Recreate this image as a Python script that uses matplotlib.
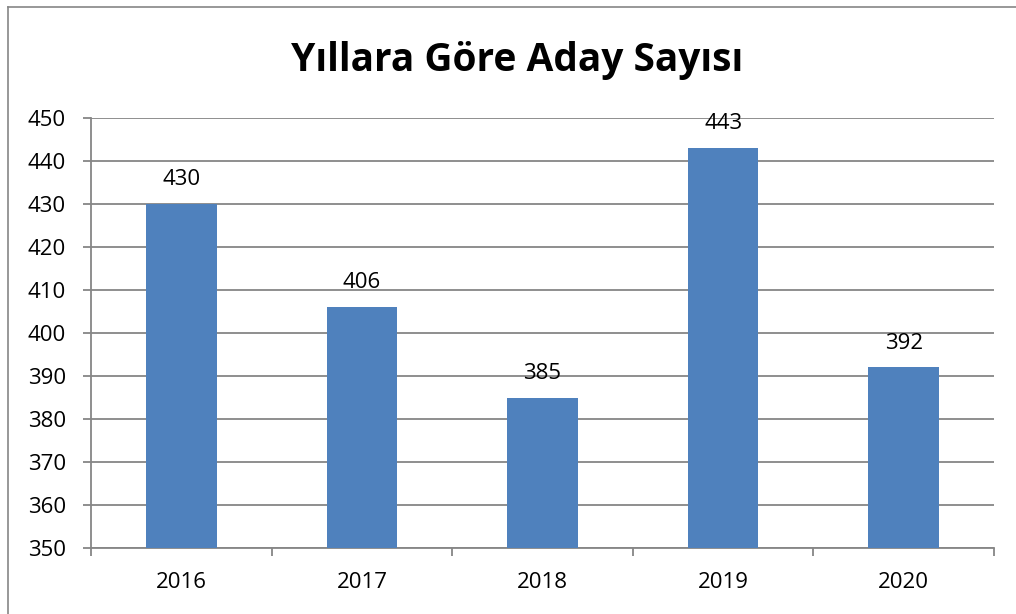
import matplotlib.pyplot as plt
from matplotlib.lines import Line2D

years = ["2016", "2017", "2018", "2019", "2020"]
counts = [430, 406, 385, 443, 392]
y_ticks = list(range(350, 451, 10))

plt.rcParams['font.family'] = ['Open Sans', 'DejaVu Sans']

fig = plt.figure(figsize=(10.16, 6.14), dpi=100)
ax = fig.add_axes([91 / 1016, 1 - 548 / 614, (994 - 91) / 1016, (548 - 118) / 614])

grey = "#868686"
x = list(range(len(years)))
bars = ax.bar(x, counts, width=0.39, color="#4F81BD", zorder=3)

ax.set_xlim(-0.5, len(years) - 0.5)
ax.set_ylim(350, 450)
ax.set_yticks(y_ticks)
ax.set_yticklabels([str(v) for v in y_ticks], fontsize=16)
ax.set_xticks(x)
ax.set_xticklabels(years, fontsize=16)
ax.tick_params(axis='x', length=0, pad=17)
ax.tick_params(axis='y', length=6, width=1.3, color=grey, pad=12)

# category boundary ticks
ax.set_xticks([i - 0.5 for i in range(len(years) + 1)], minor=True)
ax.tick_params(axis='x', which='minor', length=6, width=1.3, color=grey)

ax.grid(axis='y', color=grey, linewidth=1.3, zorder=0)
for s in ["top", "right"]:
    ax.spines[s].set_visible(False)
for s in ["left", "bottom"]:
    ax.spines[s].set_color(grey)
    ax.spines[s].set_linewidth(1.3)

for xi, v in zip(x, counts):
    ax.annotate(str(v), (xi, v), xytext=(0, 10), textcoords="offset points",
                ha="center", va="bottom", fontsize=16, zorder=4)

fig.text(517 / 1016, 1 - 60 / 614, "Yıllara Göre Aday Sayısı", ha="center", va="center",
         fontsize=28, fontweight="bold")

# outer chart border (top and left visible)
fig.add_artist(Line2D([8 / 1016, 1], [1 - 7 / 614, 1 - 7 / 614], transform=fig.transFigure,
                      color=grey, linewidth=1.2))
fig.add_artist(Line2D([8 / 1016, 8 / 1016], [0, 1 - 7 / 614], transform=fig.transFigure,
                      color=grey, linewidth=1.2))

fig.savefig("out.png", dpi=100)
